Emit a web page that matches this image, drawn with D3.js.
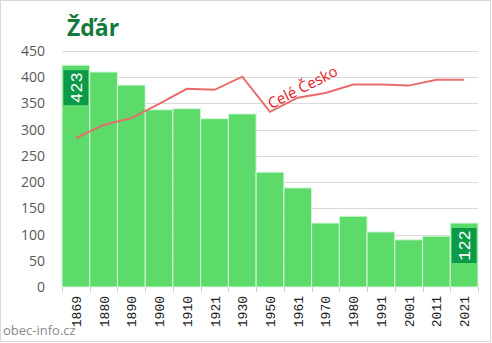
<!DOCTYPE html>
<html><head><meta charset="utf-8">
<script src="https://cdn.jsdelivr.net/npm/d3@7"></script>
<style>body{margin:0;background:#fff}svg{display:block}</style>
</head><body>
<svg id="c" width="492" height="343"></svg>
<script>
const years = ["1869","1880","1890","1900","1910","1921","1930","1950","1961","1970","1980","1991","2001","2011","2021"];
const population = [423,410,385,338,340,321,330,219,189,122,135,105,90,97,122];
const czechiaScaled = [284,309,322,349,378,376,401,334,361,370,386,386,384,395,395];
const yTicks = [0,50,100,150,200,250,300,350,400,450];
const title = "Žďár";
const lineLabel = "Celé Česko";
const source = "obec-info.cz";

const svg = d3.select("#c");
const m = {l:62, r:478, t:51, b:287};
const x = d3.scaleBand().domain(years).range([m.l, m.r]).padding(0);
const y = d3.scaleLinear().domain([0,450]).range([m.b, m.t]);
const font = "Open Sans, Liberation Sans, Arial, sans-serif";
const mono = "Liberation Mono, DejaVu Sans Mono, monospace";

svg.append("rect").attr("x",0.5).attr("y",0.5).attr("width",490).attr("height",341)
  .attr("fill","#fff").attr("stroke","#d9d9d9");

// gridlines
svg.append("g").selectAll("line").data(yTicks.filter(d=>d>0)).join("line")
  .attr("x1",m.l).attr("x2",m.r).attr("y1",d=>Math.round(y(d))+0.5).attr("y2",d=>Math.round(y(d))+0.5)
  .attr("stroke","#d9d9d9").attr("stroke-width",1);

// y labels
svg.append("g").selectAll("text").data(yTicks).join("text")
  .attr("x",45).attr("y",d=>y(d)+5).attr("text-anchor","end")
  .attr("font-family",font).attr("font-size",14).attr("fill","#595959").text(d=>d);

// bars
svg.append("g").selectAll("rect").data(years).join("rect")
  .attr("x",d=>x(d)).attr("width",x.bandwidth())
  .attr("y",(d,i)=>y(population[i])).attr("height",(d,i)=>y(0)-y(population[i]))
  .attr("fill","#5cdb6a").attr("stroke","#d9f5dc").attr("stroke-width",1);

// x ticks
const bounds = years.map(d=>x(d)).concat([m.r]);
svg.append("g").selectAll("line").data(bounds).join("line")
  .attr("x1",d=>Math.round(d)+0.5).attr("x2",d=>Math.round(d)+0.5).attr("y1",m.b).attr("y2",m.b+5)
  .attr("stroke","#d0d0d0");

// x labels
svg.append("g").selectAll("text").data(years).join("text")
  .attr("transform",d=>`translate(${x(d)+x.bandwidth()/2+5},${m.b+9}) rotate(-90)`)
  .attr("text-anchor","end").attr("font-family",mono).attr("font-size",13).attr("fill","#222")
  .text(d=>d);

// line
const line = d3.line().x((d,i)=>x(years[i])+x.bandwidth()/2).y(d=>y(d));
svg.append("path").datum(czechiaScaled).attr("d",line).attr("fill","none")
  .attr("stroke","#ea6b6b").attr("stroke-width",2);

svg.append("text").attr("transform","translate(305,92) rotate(-27)").attr("text-anchor","middle")
  .attr("font-family",font).attr("font-size",15).attr("fill","#e0202a").text(lineLabel);

// value labels for first & last
[0, years.length-1].forEach(i=>{
  const bx = x(years[i]);
  const top = y(population[i]);
  svg.append("rect").attr("x",bx+1.5).attr("y",top+5).attr("width",x.bandwidth()-3).attr("height",35)
    .attr("fill","#0b9a48");
  svg.append("text").attr("transform",`translate(${bx+x.bandwidth()/2+6},${top+22.5}) rotate(-90)`)
    .attr("text-anchor","middle").attr("font-family",mono).attr("font-size",17).attr("fill","#fff")
    .text(population[i]);
});

svg.append("text").attr("x",67).attr("y",36).attr("font-family",font).attr("font-weight","bold")
  .attr("font-size",23).attr("fill","#137a3c").text(title);

svg.append("text").attr("x",3).attr("y",335).attr("font-family",font).attr("font-size",13)
  .attr("fill","#8a8a8a").text(source);
</script>
</body></html>
